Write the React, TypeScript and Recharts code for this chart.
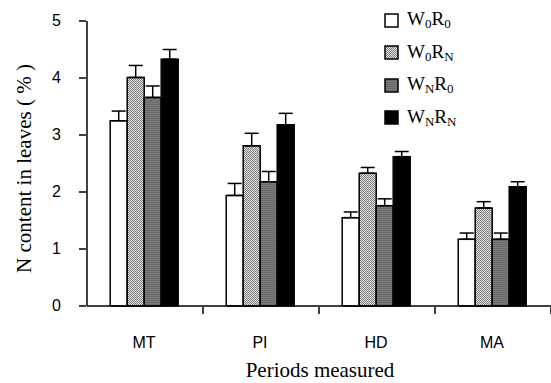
import React from 'react';
import { BarChart, Bar, XAxis, YAxis, ErrorBar } from 'recharts';

const periods = ['MT', 'PI', 'HD', 'MA'];
const w0r0 = [3.25, 1.94, 1.55, 1.17];
const w0r0Err = [0.17, 0.21, 0.1, 0.11];
const w0rn = [4.01, 2.81, 2.33, 1.72];
const w0rnErr = [0.21, 0.22, 0.1, 0.11];
const wnr0 = [3.66, 2.18, 1.76, 1.17];
const wnr0Err = [0.2, 0.18, 0.12, 0.11];
const wnrn = [4.33, 3.18, 2.62, 2.09];
const wnrnErr = [0.17, 0.2, 0.09, 0.09];
const yTicks = [0, 1, 2, 3, 4, 5];

const data = periods.map((p, i) => ({
  period: p,
  a: w0r0[i], aErr: [0, w0r0Err[i]],
  b: w0rn[i], bErr: [0, w0rnErr[i]],
  c: wnr0[i], cErr: [0, wnr0Err[i]],
  d: wnrn[i], dErr: [0, wnrnErr[i]],
}));

const serif = "'Liberation Serif', 'Times New Roman', serif";
const sans = "'Liberation Sans', Arial, sans-serif";

const legendItems = [
  { fill: '#ffffff', main: ['W', 'R'], subs: ['0', '0'] },
  { fill: 'url(#checker)', main: ['W', 'R'], subs: ['0', 'N'] },
  { fill: 'url(#darkgray)', main: ['W', 'R'], subs: ['N', '0'] },
  { fill: '#000000', main: ['W', 'R'], subs: ['N', 'N'] },
];

const LegendBox = () => (
  <div style={{ position: 'absolute', left: 384, top: 4, width: 160, fontFamily: serif, fontSize: 19, color: '#000' }}>
    {legendItems.map((it, i) => (
      <div key={i} style={{ display: 'flex', alignItems: 'center', height: 32.5 }}>
        <svg width={15} height={15} style={{ marginRight: 8 }}>
          <rect x={1} y={1} width={13} height={13} fill={it.fill} stroke="#000" strokeWidth={1.5} />
        </svg>
        <span>
          {it.main[0]}<sub style={{ fontSize: 13, verticalAlign: -3 }}>{it.subs[0]}</sub>
          {it.main[1]}<sub style={{ fontSize: 13, verticalAlign: -3 }}>{it.subs[1]}</sub>
        </span>
      </div>
    ))}
  </div>
);

const YTick = (props: any) => {
  const { x, y, payload } = props;
  return (
    <g>
      <line x1={x} y1={y} x2={x + 7} y2={y} stroke="#000" strokeWidth={1.5} />
      <text x={x - 18} y={y - 1} textAnchor="end" dominantBaseline="central" style={{ fontFamily: sans, fontSize: 16 }} fill="#000">
        {payload.value}
      </text>
    </g>
  );
};

const XTick = (props: any) => {
  const { x, y, payload } = props;
  const half = payload.offset || 58;
  return (
    <g>
      <line x1={x + half} y1={y} x2={x + half} y2={y - 7} stroke="#000" strokeWidth={1.5} />
      <text x={x - 1} y={y + 28} textAnchor="middle" dominantBaseline="central" style={{ fontFamily: sans, fontSize: 16 }} fill="#000">
        {payload.value}
      </text>
    </g>
  );
};

const XLabel = (props: any) => {
  const vb = props.viewBox;
  return (
    <text x={vb.x + vb.width / 2 + 1} y={vb.y + 64} textAnchor="middle" dominantBaseline="central" style={{ fontFamily: serif, fontSize: 21 }} fill="#000">
      Periods measured
    </text>
  );
};

const YLabel = (props: any) => {
  const vb = props.viewBox;
  const cx = vb.x + 24;
  const cy = vb.y + vb.height / 2 + 5;
  return (
    <text x={cx} y={cy} transform={`rotate(-90, ${cx}, ${cy})`} textAnchor="middle" dominantBaseline="central" style={{ fontFamily: serif, fontSize: 21 }} fill="#000">
      N content in leaves ( % )
    </text>
  );
};

export default function App() {
  return (
    <div style={{ position: 'absolute', left: 0, top: 0, width: 551, height: 383, background: '#fff' }}>
      <BarChart
        width={551}
        height={383}
        data={data}
        margin={{ top: 21, right: 0, left: 0, bottom: 0 }}
        barCategoryGap="20%"
        barGap={0}
      >
        <defs>
          <pattern id="checker" width={2} height={2} patternUnits="userSpaceOnUse">
            <rect width={2} height={2} fill="#e0e0e0" />
            <rect width={1} height={1} fill="#808080" />
            <rect x={1} y={1} width={1} height={1} fill="#808080" />
          </pattern>
          <pattern id="darkgray" width={3} height={2} patternUnits="userSpaceOnUse">
            <rect width={3} height={2} fill="#7a7a7a" />
            <rect width={3} height={1} fill="#6a6a6a" />
          </pattern>
        </defs>
        <XAxis
          dataKey="period"
          height={77}
          tickLine={false}
          axisLine={{ stroke: '#000', strokeWidth: 1.5 }}
          tick={<XTick />}
          interval={0}
          label={<XLabel />}
        />
        <YAxis
          width={87}
          domain={[0, 5]}
          ticks={yTicks}
          tickLine={false}
          axisLine={{ stroke: '#000', strokeWidth: 1.5 }}
          tick={<YTick />}
          label={<YLabel />}
        />
        <Bar dataKey="a" fill="#ffffff" stroke="#000" strokeWidth={1.5} isAnimationActive={false}>
          <ErrorBar dataKey="aErr" width={7} stroke="#000" strokeWidth={1.5} />
        </Bar>
        <Bar dataKey="b" fill="url(#checker)" stroke="#000" strokeWidth={1.5} isAnimationActive={false}>
          <ErrorBar dataKey="bErr" width={7} stroke="#000" strokeWidth={1.5} />
        </Bar>
        <Bar dataKey="c" fill="url(#darkgray)" stroke="#000" strokeWidth={1.5} isAnimationActive={false}>
          <ErrorBar dataKey="cErr" width={7} stroke="#000" strokeWidth={1.5} />
        </Bar>
        <Bar dataKey="d" fill="#000000" stroke="#000" strokeWidth={1.5} isAnimationActive={false}>
          <ErrorBar dataKey="dErr" width={7} stroke="#000" strokeWidth={1.5} />
        </Bar>
      </BarChart>
      <LegendBox />
    </div>
  );
}
